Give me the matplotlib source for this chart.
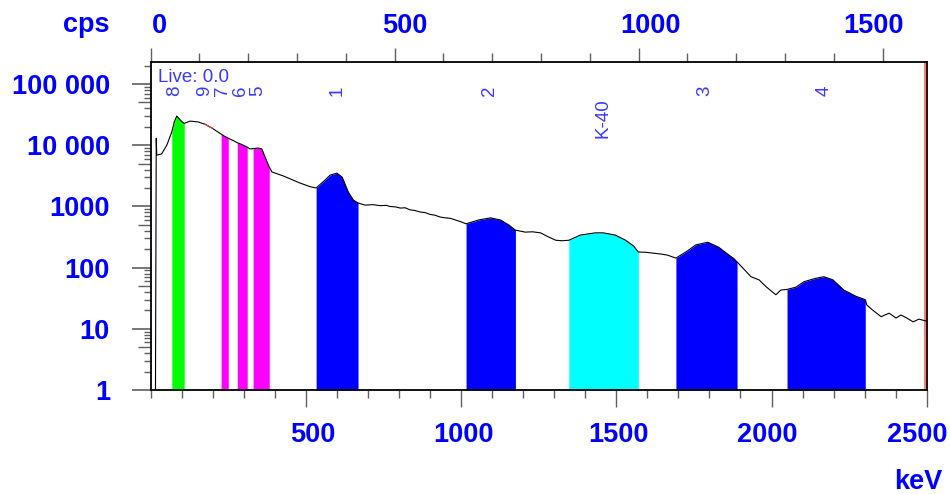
import matplotlib
matplotlib.use('Agg')
import matplotlib.pyplot as plt
import matplotlib.transforms as mtransforms
from matplotlib.ticker import FixedLocator, MultipleLocator, LogLocator, NullLocator, NullFormatter
import numpy as np

# ---------------- data ----------------
energy_kev = [15.5, 16.5, 18, 19.5, 35, 52, 68, 76, 84, 92, 100, 108, 127, 153, 175, 198,
              227, 238, 250, 265, 279, 295, 311, 320, 330, 346, 358, 368, 382, 391, 427,
              482, 514, 533, 562, 578, 600, 617, 636, 653, 668, 691, 715, 739, 760, 770,
              790, 804, 820, 835, 850, 869, 885, 900, 915, 933, 950, 965, 982, 1000,
              1016, 1056, 1095, 1127, 1153, 1175, 1207, 1230, 1256, 1280,
              1305, 1325, 1347, 1384, 1432, 1458, 1497, 1530, 1556, 1571, 1595, 1620, 1643,
              1665, 1692,
              1724, 1756, 1795, 1830, 1863, 1879, 1889, 1908, 1934, 1960, 1982, 2014,
              2030, 2050, 2079, 2105, 2143, 2169, 2198, 2233, 2272, 2302, 2307, 2327,
              2353, 2379, 2401, 2417, 2436, 2456, 2475, 2498]
counts_cps = [1, 60, 13000, 6900, 7200, 10000, 16500, 24000, 30000, 27000, 24500, 22700,
              24800, 24000, 22000, 19000, 15200, 14000, 13000, 12000, 11000, 10200, 9300,
              8700, 8800, 9000, 8700, 6500, 4400, 3650, 3150, 2400, 2100, 2000, 2700, 3250,
              3500, 3000, 1740, 1270, 1140, 1050, 1070, 1030, 1040, 1000,
              980, 940, 950, 880, 860, 810, 790, 740, 720, 670, 650, 640, 600, 560,
              520, 600, 650, 600, 500, 410, 380, 385, 370, 320,
              280, 275, 280, 340, 370, 370, 340, 280, 225, 180, 178, 172, 167,
              160, 143,
              180, 235, 260, 215, 160, 140, 124, 98, 71, 63,
              49, 36, 43, 44, 48, 59, 67, 71, 63, 43, 34, 30, 24.5, 20, 15.8, 18, 15, 16.8,
              15, 13, 14.4, 13.4]

band_lo = [68, 227, 279, 330, 533, 1016, 1347, 1692, 2050]
band_hi = [108, 250, 311, 382, 668, 1175, 1571, 1889, 2302]
band_colors = ['#00ff00', '#ff00ff', '#ff00ff', '#ff00ff', '#0000ff', '#0000ff',
               '#00ffff', '#0000ff', '#0000ff']

peak_names = ['8', '9', '7', '6', '5', '1', '2', 'K-40', '3', '4']
peak_kev = [78, 175, 230, 288, 346, 601, 1091, 1456, 1785, 2169]

y_ticks = [1, 10, 100, 1000, 10000, 100000]
y_tick_labels = ['1', '10', '100', '1000', '10 000', '100 000']
x_ticks = [500, 1000, 1500, 2000, 2500]
x_tick_labels = ['500', '1000', '1500', '2000', '2500']
chan_ticks = [0, 500, 1000, 1500]
chan_tick_labels = ['0', '500', '1000', '1500']
kev_per_channel = 1.572
red_segment = [175, 198]

# ---------------- style ----------------
BLUE = '#0000ff'
LBLUE = '#3a3aff'
TICKC = '#606060'
FONT = 'Liberation Sans'

e = np.array(energy_kev, dtype=float)
c = np.array(counts_cps, dtype=float)

fig = plt.figure(figsize=(9.5, 4.94), dpi=100)
ax = fig.add_axes([0.1586, 0.2105, 0.9755 - 0.1586, 0.8745 - 0.2105])

ax.set_yscale('log')
ax.set_xlim(0, 2500)
ax.set_ylim(1, 10 ** 5.36)

for lo, hi, col in zip(band_lo, band_hi, band_colors):
    m = (e >= lo) & (e <= hi)
    ax.fill_between(e[m], 1, c[m], color=col, lw=0, zorder=2)

ax.plot(e, c, color='black', lw=0.8, zorder=3)
m = (e >= red_segment[0]) & (e <= red_segment[1])
ax.plot(e[m], c[m], color='#e04040', lw=0.9, zorder=4)
ax.axvline(2496, color='#ff6060', lw=1.2, zorder=1)

for s in ax.spines.values():
    s.set_linewidth(1.3)
    s.set_color('black')

# bottom x-axis
ax.xaxis.set_major_locator(FixedLocator(x_ticks))
ax.set_xticklabels(x_tick_labels)
ax.xaxis.set_minor_locator(MultipleLocator(100))
ax.tick_params(axis='x', which='major', direction='out', length=12, width=1,
               color=TICKC, pad=11, labelsize=19.5, labelcolor=BLUE)
ax.tick_params(axis='x', which='minor', direction='out', length=5.8, width=1, color=TICKC)

# y-axis
ax.yaxis.set_major_locator(FixedLocator(y_ticks))
ax.set_yticklabels(y_tick_labels)
ax.yaxis.set_minor_locator(LogLocator(base=10, subs=[2, 3, 4, 6, 7, 8, 9], numticks=20))
ax.yaxis.set_minor_formatter(NullFormatter())
ax.tick_params(axis='y', which='major', direction='out', length=13.7, width=1.2,
               color=TICKC, pad=15.6, labelsize=19.5, labelcolor=BLUE)
ax.tick_params(axis='y', which='minor', direction='out', length=5, width=1, color=TICKC)

sec_y = ax.secondary_yaxis('left')
sec_y.set_yticks([5 * 10 ** k for k in range(6)])
sec_y.yaxis.set_minor_locator(NullLocator())
sec_y.tick_params(axis='y', which='major', direction='out', length=9.4, width=1,
                  color=TICKC, labelleft=False)
sec_y.spines['left'].set_visible(False)

# top channel axis
top = ax.secondary_xaxis('top', functions=(lambda k: k / kev_per_channel,
                                           lambda ch: ch * kev_per_channel))
top.set_xticks(chan_ticks)
top.set_xticklabels(chan_tick_labels)
top.xaxis.set_minor_locator(MultipleLocator(100))
top.tick_params(axis='x', which='major', direction='out', length=10, width=1,
                color=TICKC, pad=6.5, labelsize=19.5, labelcolor=BLUE)
top.tick_params(axis='x', which='minor', direction='out', length=6.5, width=1, color=TICKC)
top.spines['top'].set_visible(False)

for lab in ax.get_xticklabels() + ax.get_yticklabels() + top.get_xticklabels():
    lab.set_fontfamily(FONT)
    lab.set_fontweight('bold')

# peak labels
bt = mtransforms.blended_transform_factory(ax.transData, ax.transAxes)
for name, kev in zip(peak_names, peak_kev):
    if name == 'K-40':
        ax.text(kev, 0.891, name, rotation=90, transform=bt, ha='center', va='top',
                fontsize=13.5, color=LBLUE, family=FONT, zorder=5)
    else:
        ax.text(kev, 0.896, name, rotation=90, transform=bt, ha='center', va='bottom',
                fontsize=13.5, color=LBLUE, family=FONT, zorder=5)

ax.text(23.5, 0.980, 'Live: 0.0', transform=bt, ha='left', va='top', fontsize=13.5,
        color=LBLUE, family=FONT, zorder=5)

fig.text(86.7 / 950, 1 - 25 / 494, 'cps', ha='center', va='center', fontsize=19.5,
         fontweight='bold', color=BLUE, family=FONT)
fig.text(918 / 950, 1 - 481.7 / 494, 'keV', ha='center', va='center', fontsize=19.5,
         fontweight='bold', color=BLUE, family=FONT)

# small label shifts to match reference
fig.canvas.draw()
bottom_shift_px = [6.6, 2.6, 2, -4, -9]
top_shift_px = [9, 10, 12, -9]
for lab, dx in zip(ax.get_xticklabels(), bottom_shift_px):
    lab.set_transform(lab.get_transform() + mtransforms.ScaledTranslation(dx / 100, 0, fig.dpi_scale_trans))
for lab, dx in zip(top.get_xticklabels(), top_shift_px):
    lab.set_transform(lab.get_transform() + mtransforms.ScaledTranslation(dx / 100, 0, fig.dpi_scale_trans))

fig.savefig('out.png', dpi=100, facecolor='white')
